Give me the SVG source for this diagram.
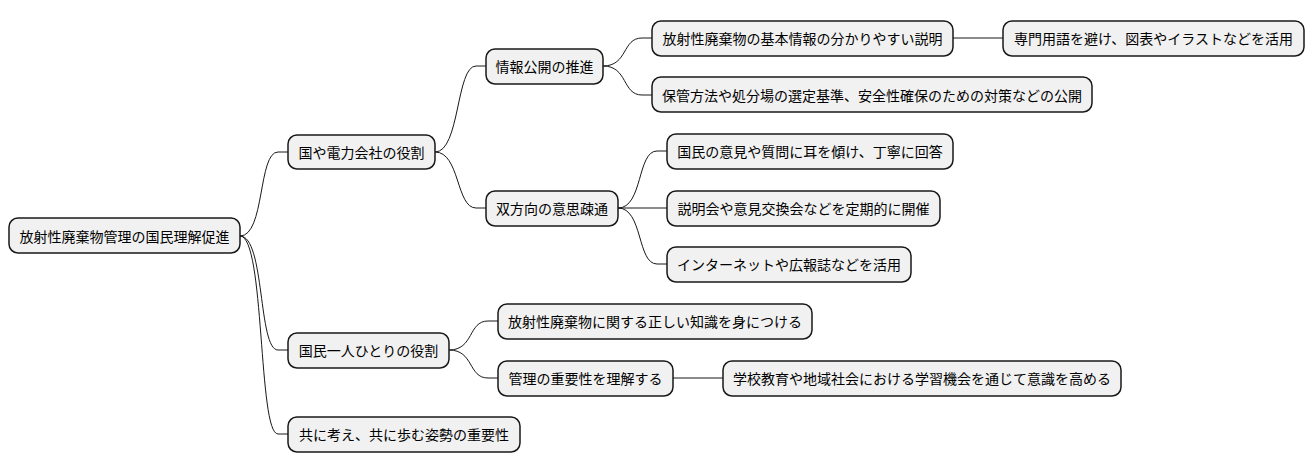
<svg xmlns="http://www.w3.org/2000/svg" width="1314" height="471" viewBox="0 0 1314 471">
<style>
.n rect{fill:#f1f1f1;stroke:#181818;stroke-width:1.5}
.n text{font-family:"Noto Sans CJK JP","Noto Sans",sans-serif;font-size:14px;fill:#000;text-anchor:middle;dominant-baseline:central}
#c path{fill:none;stroke:#181818;stroke-width:1}
</style>
<rect width="1314" height="471" fill="#fff"/>
<g id="c">
<path d="M240,236 C265,236 258,152 278,152 L288,152"/>
<path d="M240,236 C265,236 258,350 278,350 L288,350"/>
<path d="M240,236 C265,236 258,434 278,434 L288,434"/>
<path d="M435,152 C460,152 456,66 476,66 L486,66"/>
<path d="M435,152 C460,152 456,208 476,208 L486,208"/>
<path d="M603,66 C628,66 622,38 642,38 L652,38"/>
<path d="M603,66 C628,66 622,95 642,95 L652,95"/>
<path d="M953,38 L1003,38"/>
<path d="M618,208 C643,208 637,151 657,151 L667,151"/>
<path d="M618,208 L667,208"/>
<path d="M618,208 C643,208 637,264 657,264 L667,264"/>
<path d="M449,350 C474,350 468,321 488,321 L498,321"/>
<path d="M449,350 C474,350 468,378 488,378 L498,378"/>
<path d="M673,378 L723,378"/>
</g>
<g id="n0" class="n"><rect x="9" y="218" width="231" height="35" rx="9"/><text x="124.5" y="236">放射性廃棄物管理の国民理解促進</text></g>
<g id="n1" class="n"><rect x="288" y="135" width="147" height="34" rx="9"/><text x="361.5" y="152">国や電力会社の役割</text></g>
<g id="n2" class="n"><rect x="486" y="49" width="117" height="35" rx="9"/><text x="544.5" y="66">情報公開の推進</text></g>
<g id="n3" class="n"><rect x="652" y="21" width="301" height="35" rx="9"/><text x="802.5" y="38">放射性廃棄物の基本情報の分かりやすい説明</text></g>
<g id="n4" class="n"><rect x="1003" y="21" width="301" height="35" rx="9"/><text x="1153.5" y="38">専門用語を避け、図表やイラストなどを活用</text></g>
<g id="n5" class="n"><rect x="652" y="77" width="440" height="35" rx="9"/><text x="872" y="95">保管方法や処分場の選定基準、安全性確保のための対策などの公開</text></g>
<g id="n6" class="n"><rect x="486" y="191" width="132" height="35" rx="9"/><text x="552" y="208">双方向の意思疎通</text></g>
<g id="n7" class="n"><rect x="667" y="134" width="286" height="35" rx="9"/><text x="810" y="151">国民の意見や質問に耳を傾け、丁寧に回答</text></g>
<g id="n8" class="n"><rect x="667" y="191" width="273" height="35" rx="9"/><text x="803.5" y="208">説明会や意見交換会などを定期的に開催</text></g>
<g id="n9" class="n"><rect x="667" y="247" width="244" height="35" rx="9"/><text x="789" y="264">インターネットや広報誌などを活用</text></g>
<g id="n10" class="n"><rect x="288" y="333" width="161" height="35" rx="9"/><text x="368.5" y="350">国民一人ひとりの役割</text></g>
<g id="n11" class="n"><rect x="498" y="304" width="314" height="35" rx="9"/><text x="655" y="321">放射性廃棄物に関する正しい知識を身につける</text></g>
<g id="n12" class="n"><rect x="498" y="361" width="175" height="35" rx="9"/><text x="585.5" y="378">管理の重要性を理解する</text></g>
<g id="n13" class="n"><rect x="723" y="361" width="398" height="35" rx="9"/><text x="922" y="378">学校教育や地域社会における学習機会を通じて意識を高める</text></g>
<g id="n14" class="n"><rect x="288" y="417" width="232" height="35" rx="9"/><text x="404" y="434">共に考え、共に歩む姿勢の重要性</text></g>
</svg>
